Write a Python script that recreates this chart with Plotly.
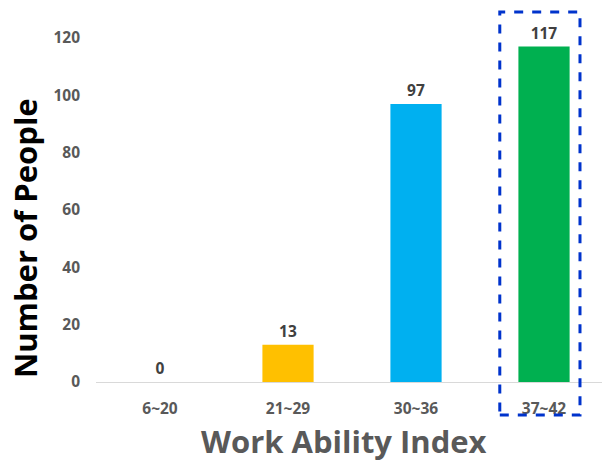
import plotly.graph_objects as go

categories = ["6~20", "21~29", "30~36", "37~42"]
counts = [0, 13, 97, 117]
bar_colors = ["#FFC000", "#FFC000", "#00B0F0", "#00B050"]
y_ticks = [0, 20, 40, 60, 80, 100, 120]

FONT = "Open Sans"

fig = go.Figure()
fig.add_trace(go.Bar(
    x=categories, y=counts, width=0.4,
    marker=dict(color=bar_colors, line=dict(width=0)),
    text=[str(v) for v in counts], textposition="outside",
    textfont=dict(family=FONT, size=15.5, color="#404040", weight="bold"),
    cliponaxis=False, showlegend=False,
))

fig.update_layout(
    width=602, height=461,
    margin=dict(l=96, r=0, t=38, b=79),
    plot_bgcolor="white", paper_bgcolor="white",
    bargap=0.6,
    xaxis=dict(
        range=[-0.5, 3.453], showgrid=False, zeroline=False,
        showline=True, linecolor="#D9D9D9", linewidth=1,
        ticks="", ticklabelstandoff=12,
        tickfont=dict(family=FONT, size=15.5, color="#595959", weight="bold"),
    ),
    yaxis=dict(
        range=[0, 120], tickvals=y_ticks, showgrid=False, zeroline=False,
        showline=False, ticks="", ticklabelstandoff=15,
        tickfont=dict(family=FONT, size=15.5, color="#595959", weight="bold"),
    ),
    annotations=[
        dict(text="Work Ability Index", xref="paper", yref="paper",
             x=0.49, y=-0.172, xanchor="center", yanchor="middle", showarrow=False,
             font=dict(family=FONT, size=31, color="#595959", weight="bold")),
        dict(text="Number of People", xref="paper", yref="paper",
             x=-0.140, y=0.419, xanchor="center", yanchor="middle", showarrow=False,
             textangle=-90,
             font=dict(family=FONT, size=31, color="#000000", weight="bold")),
    ],
    shapes=[
        dict(type="rect", xref="paper", yref="paper",
             x0=0.798, x1=0.9565, y0=-0.0959, y1=1.0756,
             line=dict(color="#0033CC", width=3, dash="dash"),
             fillcolor="rgba(0,0,0,0)", layer="above"),
    ],
)

fig.write_html("out.html")
